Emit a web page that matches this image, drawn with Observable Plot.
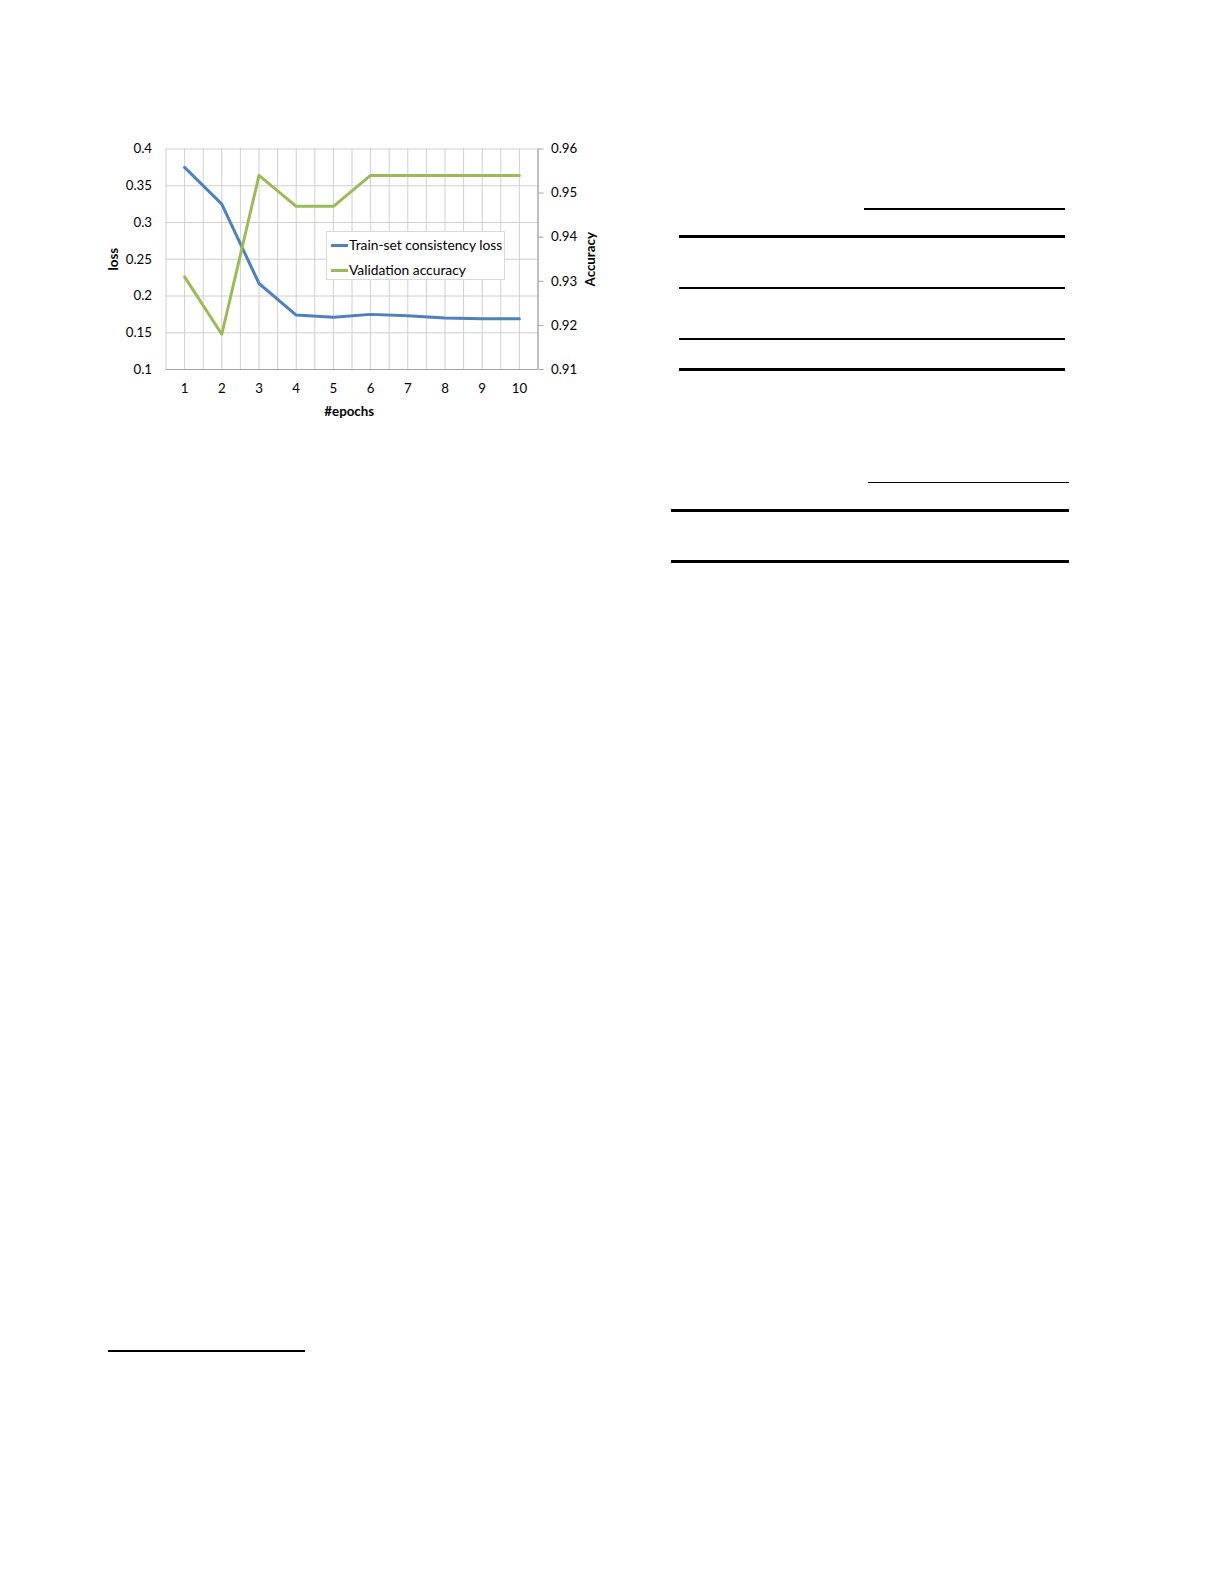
<!DOCTYPE html>
<html>
<head>
<meta charset="utf-8">
<script src="https://cdn.jsdelivr.net/npm/d3@7"></script>
<script src="https://cdn.jsdelivr.net/npm/@observablehq/plot@0.6"></script>
<style>
  html, body { margin: 0; padding: 0; background: #fff; }
  body { position: relative; width: 1225px; height: 1585px; overflow: hidden; font-family: Lato, "Open Sans", sans-serif; }
  #chart { position: absolute; left: 0; top: 0; }
  .legend { position: absolute; left: 326px; top: 231px; width: 179px; height: 49px; background: #fff; border: 1px solid #d9d9d9; box-sizing: border-box; font-size: 13.8px; color: #000; }
  .row { position: absolute; left: 4px; height: 16px; line-height: 16px; white-space: nowrap; }
  .row .sw { display: inline-block; width: 17px; height: 3px; vertical-align: middle; margin-right: 1px; position: relative; top: -1px; }
  .rule { position: absolute; background: #000; }
</style>
</head>
<body>
<div id="chart"></div>
<div class="legend" id="legend"></div>
<script>
// ---- data ----
const epochs = [1, 2, 3, 4, 5, 6, 7, 8, 9, 10];
const trainLoss = [0.375, 0.325, 0.217, 0.174, 0.171, 0.175, 0.173, 0.170, 0.169, 0.169];
const valAccuracy = [0.931, 0.918, 0.954, 0.947, 0.947, 0.954, 0.954, 0.954, 0.954, 0.954];
const lossTicks = [0.1, 0.15, 0.2, 0.25, 0.3, 0.35, 0.4];
const accTicks = [0.91, 0.92, 0.93, 0.94, 0.95, 0.96];
const seriesNames = ["Train-set consistency loss", "Validation accuracy"];
const seriesColors = ["#4f81bd", "#9bbb59"];

// map accuracy (right axis) onto loss scale (left axis)
const lossDom = [0.1, 0.4], accDom = [0.91, 0.96];
const accToLoss = a => lossDom[0] + (a - accDom[0]) / (accDom[1] - accDom[0]) * (lossDom[1] - lossDom[0]);
const lossToAcc = l => accDom[0] + (l - lossDom[0]) / (lossDom[1] - lossDom[0]) * (accDom[1] - accDom[0]);
const fmt = v => String(+v.toFixed(2));

const lossData = epochs.map((e, i) => ({epoch: e, value: trainLoss[i]}));
const accData = epochs.map((e, i) => ({epoch: e, value: accToLoss(valAccuracy[i])}));
const gridX = d3.range(0.5, 10.51, 0.5);

const grid = "#d0d0d0", axisCol = "#a6a6a6";

const chart = Plot.plot({
  width: 620,
  height: 430,
  marginLeft: 165.5,
  marginRight: 82.5,
  marginTop: 148.5,
  marginBottom: 61,
  x: {domain: [0.5, 10.5]},
  y: {domain: lossDom},
  style: {fontFamily: "Lato, 'Open Sans', sans-serif", fontSize: "13.3px", color: "#000", background: "transparent", overflow: "visible"},
  marks: [
    Plot.ruleX(gridX, {stroke: grid, strokeWidth: 1}),
    Plot.ruleY(lossTicks, {stroke: grid, strokeWidth: 1}),
    Plot.ruleY([lossDom[0]], {stroke: axisCol, strokeWidth: 1.2}),
    Plot.ruleX([10.5], {stroke: axisCol, strokeWidth: 1.2}),
    Plot.axisX(epochs, {anchor: "bottom", tickSize: 0, tickPadding: 14.5, label: null, fill: "#000"}),
    Plot.axisY(lossTicks, {anchor: "left", tickSize: 0, tickPadding: 14, label: null, tickFormat: fmt, fill: "#000"}),
    Plot.axisY(accTicks.map(accToLoss), {anchor: "right", tickSize: 5, tickPadding: 8, stroke: axisCol, label: null, tickFormat: d => fmt(lossToAcc(d)), fill: "#000"}),
    Plot.text(["loss"], {frameAnchor: "left", textAnchor: "middle", lineAnchor: "middle", dx: -51.8, rotate: -90, fontWeight: "bold", fontSize: 13.3}),
    Plot.text(["Accuracy"], {frameAnchor: "right", textAnchor: "middle", lineAnchor: "middle", dx: 52.3, rotate: -90, fontWeight: "bold", fontSize: 13.3}),
    Plot.text(["#epochs"], {frameAnchor: "bottom", textAnchor: "middle", lineAnchor: "middle", dx: -2.8, dy: 42, fontWeight: "bold", fontSize: 13.3}),
    Plot.line(lossData, {x: "epoch", y: "value", stroke: seriesColors[0], strokeWidth: 3}),
    Plot.line(accData, {x: "epoch", y: "value", stroke: seriesColors[1], strokeWidth: 3})
  ]
});
document.getElementById("chart").appendChild(chart);

// legend
const legend = document.getElementById("legend");
seriesNames.forEach((name, i) => {
  const row = document.createElement("div");
  row.className = "row";
  row.style.top = (i === 0 ? 5 : 29.5) + "px";
  row.innerHTML = `<span class="sw" style="background:${seriesColors[i]}"></span>${name}`;
  legend.appendChild(row);
});

// page rules (table / footnote lines)
const rules = [
  [864, 208, 201, 2], [679, 235, 386, 3], [679, 287, 386, 2], [679, 338, 386, 2], [679, 368, 386, 3],
  [868, 481.5, 201, 1.5], [671, 508.5, 398, 3], [671, 559.5, 398, 3],
  [108, 1350, 197, 2]
];
rules.forEach(([l, t, w, h]) => {
  const d = document.createElement("div");
  d.className = "rule";
  Object.assign(d.style, {left: l + "px", top: t + "px", width: w + "px", height: h + "px"});
  document.body.appendChild(d);
});
</script>
</body>
</html>
